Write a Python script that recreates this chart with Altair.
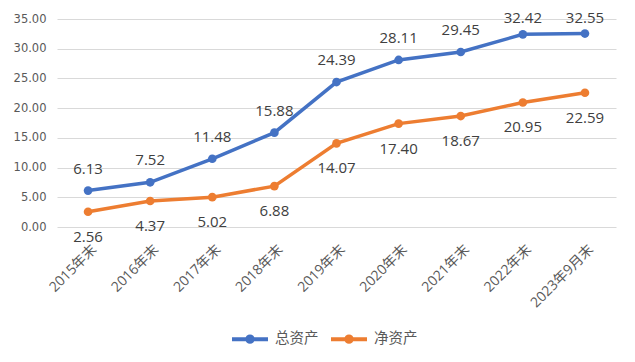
import altair as alt
import pandas as pd

periods = ["2015年末", "2016年末", "2017年末", "2018年末", "2019年末",
           "2020年末", "2021年末", "2022年末", "2023年9月末"]
total_assets = [6.13, 7.52, 11.48, 15.88, 24.39, 28.11, 29.45, 32.42, 32.55]
net_assets = [2.56, 4.37, 5.02, 6.88, 14.07, 17.40, 18.67, 20.95, 22.59]
series_names = ["总资产", "净资产"]
colors = ["#4472C4", "#ED7D31"]
y_ticks = [0, 5, 10, 15, 20, 25, 30, 35]

rows = []
for p, t, n in zip(periods, total_assets, net_assets):
    rows.append({"period": p, "series": series_names[0], "value": t})
    rows.append({"period": p, "series": series_names[1], "value": n})
df = pd.DataFrame(rows)
df["label"] = df["value"].map(lambda v: f"{v:.2f}")

FONT = "Open Sans, Noto Sans CJK SC"
AXIS_COLOR = "#595959"

x = alt.X("period:N", sort=periods, title=None,
          scale=alt.Scale(type="point", padding=0.5),
          axis=alt.Axis(labelAngle=-45, labelAlign="right", labelBaseline="middle",
                        labelFontSize=14, labelColor=AXIS_COLOR, labelFont=FONT,
                        domain=False, ticks=False, labelPadding=20, labelOffset=6,
                        grid=False))
y_scale = alt.Scale(domain=[0, 35])
y_axis = alt.Axis(values=y_ticks, format=".2f", grid=True, gridColor="#D9D9D9",
                  gridWidth=1, domain=False, ticks=False, labelFontSize=11.5,
                  labelColor=AXIS_COLOR, labelFont="DejaVu Sans", labelPadding=11,
                  labelOverlap=False, labelBound=False, labelFlush=False)
y = alt.Y("value:Q", title=None, scale=y_scale, axis=y_axis)

legend_symbol = ("M-1,0L1,0M-0.15,0A0.15,0.15,0,1,1,0.15,0A0.15,0.15,0,1,1,-0.15,0Z"
                 "M-0.06,0A0.06,0.06,0,1,1,0.06,0A0.06,0.06,0,1,1,-0.06,0Z")
color_scale = alt.Scale(domain=series_names, range=colors)
color = alt.Color("series:N", scale=color_scale, sort=series_names,
                  legend=alt.Legend(orient="none", legendX=173, legendY=300,
                                    direction="horizontal", title=None,
                                    symbolType=legend_symbol, symbolSize=1296,
                                    symbolStrokeWidth=4, labelFontSize=14.5,
                                    labelColor=AXIS_COLOR, labelFont=FONT,
                                    columnPadding=4, labelOffset=5, padding=0))

base = alt.Chart(df)
line = base.mark_line(strokeWidth=3.5).encode(x=x, y=y, color=color)
pts = base.mark_circle(size=75, opacity=1).encode(
    x=x, y=y, color=alt.Color("series:N", scale=color_scale, legend=None))

# labels kept inside the chart area, as the original does for the top values
lab_t = base.transform_filter(alt.datum.series == series_names[0]).transform_calculate(
    ly="min(datum.value, 31.5)").mark_text(
    dy=-22, fontSize=15, color="#404040", font=FONT).encode(
    x=x, y=alt.Y("ly:Q", title=None, scale=y_scale, axis=y_axis), text="label:N")
lab_n = base.transform_filter(alt.datum.series == series_names[1]).mark_text(
    dy=25, fontSize=15, color="#404040", font=FONT).encode(x=x, y=y, text="label:N")

chart = alt.layer(line, pts, lab_t, lab_n).properties(
    width=559, height=208,
    autosize=alt.AutoSizeParams(type="none"),
    padding={"left": 49, "top": 11, "right": 11, "bottom": 127},
    background="white",
).configure_view(stroke=None)

chart.save("out.html", embed_options={"renderer": "svg", "actions": False})
